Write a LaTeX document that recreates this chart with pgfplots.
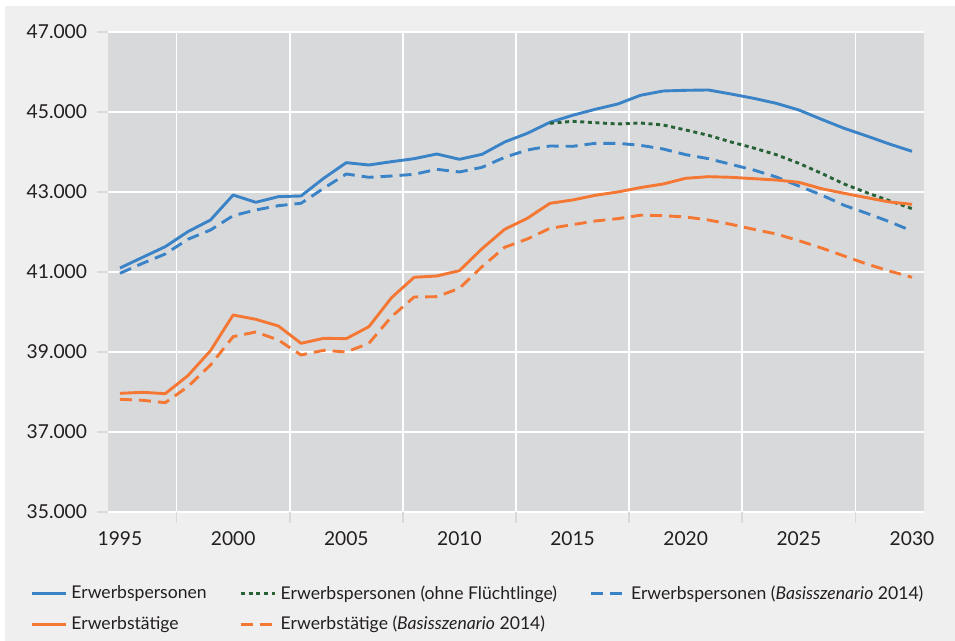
\documentclass[border=0pt]{standalone}
\usepackage{fontspec}
\setmainfont{Lato}
\usepackage{pgfplots}
\usepackage{pgfplotstable}
\pgfplotsset{compat=1.18}
\definecolor{cblue}{RGB}{58,131,199}
\definecolor{corange}{RGB}{244,120,52}
\definecolor{cgreen}{RGB}{38,98,54}
\definecolor{plotbg}{RGB}{216,217,219}
\definecolor{outerbg}{RGB}{239,239,239}
\definecolor{tickc}{RGB}{218,218,218}
\definecolor{txt}{RGB}{35,31,32}

\pgfplotstableread{
year ep epb et etb
1995 41100 40967 37967 37817
1996 41367 41217 37992 37792
1997 41633 41450 37958 37733
1998 42008 41817 38408 38133
1999 42300 42050 39033 38675
2000 42925 42408 39925 39383
2001 42742 42550 39817 39500
2002 42883 42658 39650 39300
2003 42900 42717 39217 38925
2004 43342 43092 39342 39042
2005 43733 43450 39333 39000
2006 43675 43367 39633 39217
2007 43758 43400 40358 39883
2008 43833 43442 40867 40375
2009 43950 43567 40900 40383
2010 43817 43500 41033 40592
2011 43942 43617 41583 41133
2012 44250 43867 42067 41617
2013 44467 44050 42342 41825
2014 44742 44150 42717 42092
2015 44917 44142 42800 42183
2016 45067 44217 42917 42275
2017 45200 44217 43000 42333
2018 45417 44167 43110 42420
2019 45525 44075 43200 42408
2020 45542 43933 43342 42375
2021 45550 43833 43383 42300
2022 45450 43692 43367 42192
2023 45342 43550 43333 42067
2024 45217 43375 43300 41950
2025 45050 43150 43242 41783
2026 44817 42925 43083 41600
2027 44592 42667 42967 41400
2028 44400 42467 42858 41200
2029 44200 42258 42750 41025
2030 44017 42025 42692 40867
}\datatab

\pgfplotstableread{
year epo
2014 44717
2015 44767
2016 44733
2017 44700
2018 44725
2019 44675
2020 44550
2021 44417
2022 44250
2023 44100
2024 43933
2025 43717
2026 43467
2027 43200
2028 42983
2029 42783
2030 42583
}\ohnetab

\begin{document}
\begin{tikzpicture}
\fill[white] (-54pt,-64.5pt) rectangle (423.5pt,256pt);
\fill[outerbg] (-51.5pt,-64.5pt) rectangle (423.5pt,253pt);
\begin{axis}[
  at={(0,0)}, anchor=south west,
  scale only axis,
  width=408pt, height=240pt,
  xmin=1994.47, xmax=2030.53,
  ymin=35000, ymax=47000,
  axis background/.style={fill=plotbg},
  axis line style={draw=none},
  tick pos=left,
  tick align=outside,
  major tick length=5.5pt,
  tick style={draw=tickc, line width=0.8pt},
  xtick={1997.5,2002.5,2007.5,2012.5,2017.5,2022.5,2027.5},
  xticklabels={,,,,,,},
  extra x ticks={1995,2000,2005,2010,2015,2020,2025,2030},
  extra x tick labels={1995,2000,2005,2010,2015,2020,2025,2030},
  extra x tick style={grid=none, major tick length=0pt, tick style={draw=none}},
  ytick={35000,37000,...,47000},
  scaled y ticks=false,
  /pgf/number format/fixed,
  /pgf/number format/precision=0,
  /pgf/number format/1000 sep={.},
  /pgf/number format/assume math mode=true,
  grid=major,
  major grid style={draw=white, line width=0.8pt},
  ticklabel style={font=\fontsize{9.6}{11}\selectfont, text=txt},
  yticklabel style={xshift=-1.5pt},
  xticklabel style={yshift=-6.5pt},
  legend columns=3,
  legend style={draw=none, fill=none, inner sep=0pt,
    at={(-0.0956,-0.1437)}, anchor=north west,
    font=\fontsize{8.8}{11}\selectfont, text=txt,
    /tikz/every even column/.append style={column sep=14.5pt},
    row sep=3pt},
  legend cell align=left,
  every axis plot/.append style={line width=1.45pt, line join=round},
]
\addplot[cblue] table[x=year,y=ep] {\datatab};
\addlegendentry{Erwerbspersonen}
\addplot[cgreen, dash pattern=on 2pt off 1.8pt] table[x=year,y=epo] {\ohnetab};
\addlegendentry{Erwerbspersonen (ohne Flüchtlinge)}
\addplot[cblue, dash pattern=on 6pt off 3.5pt] table[x=year,y=epb] {\datatab};
\addlegendentry{Erwerbspersonen (\textit{Basisszenario} 2014)}
\addplot[corange] table[x=year,y=et] {\datatab};
\addlegendentry{Erwerbstätige}
\addplot[corange, dash pattern=on 6pt off 3.5pt] table[x=year,y=etb] {\datatab};
\addlegendentry{Erwerbstätige (\textit{Basisszenario} 2014)}
\end{axis}
\pgfresetboundingbox
\path[use as bounding box] (-54pt,-64.5pt) rectangle (423.5pt,256pt);
\end{tikzpicture}
\end{document}
